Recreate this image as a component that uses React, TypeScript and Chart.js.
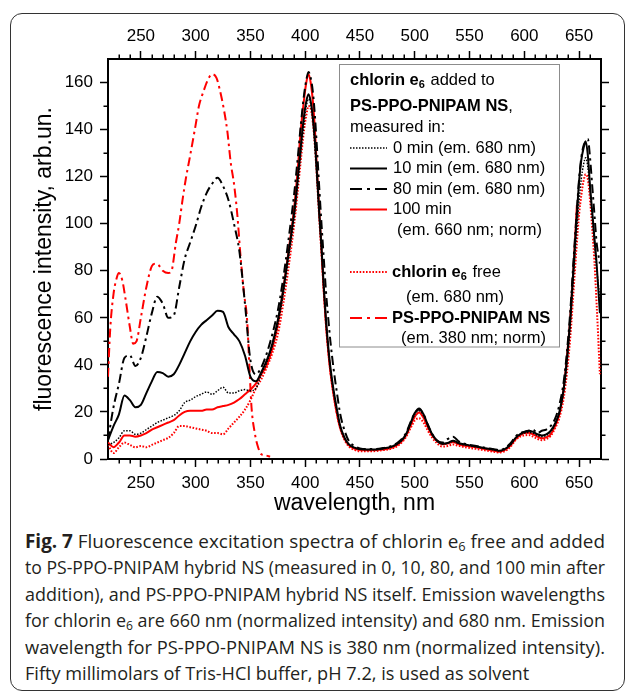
import React, { useEffect, useLayoutEffect, useRef } from 'react';
import { Chart, registerables } from 'chart.js';

Chart.register(...registerables);

const FONT = '"Liberation Sans", Arial, Helvetica, sans-serif';

// ---------------- data ----------------
const WL_LEFT = [220, 225, 230, 235, 240, 245, 250, 255, 260, 265, 270, 275, 280, 285, 290, 295, 300, 305, 310, 315, 320, 325, 330, 335, 340, 345, 350, 355];
const WL_MAIN = [360, 365, 370, 375, 380, 385, 390, 393, 396, 399, 401, 403, 405, 407, 409, 411, 413, 415, 417, 419, 421, 423, 426, 429, 432, 436, 440, 445, 450, 460, 470, 480, 487, 492, 496, 500, 504, 508, 512, 516, 520, 525, 530, 535, 540, 548, 556, 564, 572, 577, 582, 587, 592, 596, 600, 604, 608, 612, 616, 620, 624, 628, 632, 636, 639, 642, 645, 648, 650, 652, 654, 656, 658, 660, 662, 664, 666, 669];

// 0 min (em. 680 nm)
const MIN0_LEFT = [6, 7, 9, 12, 12, 10.5, 11, 12.5, 14, 15.5, 16.5, 17.5, 18.5, 20.5, 24, 25, 26.5, 27.5, 28.5, 27.5, 29, 30.5, 28, 28, 29, 29.5, 29, 30];
const MIN0_MAIN = [36, 41, 48, 57, 70, 86, 103, 116, 130, 143, 150, 153, 151, 144, 133, 118, 103, 88, 72, 58, 47, 38, 28, 20, 13.5, 8.5, 6, 4.7, 4.1, 3.9, 4.3, 5.3, 7.3, 10.3, 14.5, 19, 20.5, 18.5, 14, 10.3, 7.8, 6.4, 6.7, 7.5, 6.6, 5.8, 5.2, 4.5, 3.9, 3.4, 4, 5.8, 8.8, 10.3, 11, 11.3, 11, 10, 9.5, 10, 11.5, 14.5, 19.5, 29, 41, 57, 78, 98, 110, 119, 125, 128, 124, 114, 103, 92, 81, 68];

// 10 min (em. 680 nm)
const MIN10_LEFT = [8, 14, 19, 27, 25, 22, 23, 28, 33, 37, 36.5, 35, 36, 40, 45, 50, 54, 57, 59, 61, 63, 62.5, 56, 53, 50, 44, 35, 33];
const MIN10_MAIN = [37, 42, 49, 59, 72, 88, 105, 118, 133, 146, 152, 155, 152, 145, 134, 119, 103, 89, 73, 59, 48, 39, 29, 21, 14, 9, 6.2, 4.8, 4.2, 4, 4.4, 5.5, 7.5, 10.5, 15, 19.5, 21.5, 19, 14.5, 10.5, 8, 6.5, 6.8, 7.8, 6.8, 6, 5.3, 4.6, 4, 3.5, 4.2, 6, 9, 10.5, 11.5, 12, 11.5, 10.5, 10, 10.5, 12, 15, 20, 30, 43, 60, 82, 104, 118, 127, 132, 135, 129, 116, 105, 94, 83, 62];

// 80 min (em. 680 nm)
const MIN80_LEFT = [8, 22, 32, 43, 44, 39.5, 43, 52, 62, 69, 66, 60, 61, 73, 85, 92, 99, 107, 113, 117, 119.5, 116, 110, 100, 88, 66, 42, 36];
const MIN80_MAIN = [39, 45, 53, 63, 77, 94, 113, 127, 142, 155, 161, 164.5, 162, 156, 145, 130, 114, 99, 85, 71, 60, 50, 38, 28, 19, 12, 7.5, 5.5, 4.5, 4.2, 4.6, 5.8, 8, 11, 15.5, 19.5, 21, 19, 14.5, 10.5, 8, 7, 8.5, 9.5, 7.5, 6.2, 5.5, 4.8, 4.2, 3.8, 4.5, 6.5, 9.5, 11, 11.5, 12, 12.5, 11, 12, 12.5, 14, 17, 23, 33, 46, 63, 85, 106, 119, 128, 133, 135, 136, 128, 116, 104, 92, 83];

// 100 min (em. 660 nm; norm)
const MIN100_LEFT = [7, 5, 7, 10, 10, 9.5, 10, 11, 12.5, 13.5, 14.5, 15.5, 16.5, 18.5, 20, 20.5, 20.5, 20.5, 21, 21, 22, 22.5, 23, 24, 25.5, 27.5, 29.5, 32];
const MIN100_MAIN = [36, 40, 47, 57, 72, 89, 107, 122, 140, 153, 160, 163.5, 160, 152, 139, 121, 104, 88, 71, 57, 46, 37, 27, 19, 13, 8.5, 5.8, 4.4, 3.8, 3.7, 4, 5, 7, 10, 14, 18, 19.8, 17.5, 13.5, 10, 7.8, 6.3, 6.6, 7.2, 6.3, 5.5, 5, 4.2, 3.5, 3.1, 3.8, 5.5, 8.5, 10, 11, 11.2, 10.5, 9.5, 8.8, 9.2, 10.5, 14, 19, 30, 44, 60, 82, 108];

// chlorin e6 free (em. 680 nm)
const FREE_LEFT = [6, 2.5, 5, 7, 6, 5, 5.5, 5, 6, 7, 8, 9, 11, 14, 14, 13.5, 13, 12.5, 12, 11, 11, 10.5, 13, 15.5, 18, 21, 25, 30];
const FREE_MAIN = [34, 39, 45, 53, 66, 82, 100, 113, 127, 140, 146, 150, 149, 143, 132, 117, 101, 86, 71, 57, 46, 37, 27, 19, 13, 8, 5.3, 3.9, 3.3, 3.3, 3.7, 4.6, 6.5, 9.3, 13, 16.3, 17.3, 15.5, 12, 9, 6.8, 5.3, 5.5, 6.2, 5.6, 4.8, 4.3, 3.7, 3.1, 2.8, 3.3, 5, 8, 9.5, 10, 10.2, 9.5, 8.5, 8, 8.5, 9.8, 13, 17.5, 26, 37, 52, 72, 92, 104, 112, 118, 121, 119, 110, 98, 84, 66, 36];

// PS-PPO-PNIPAM NS (em. 380 nm; norm)
const NS_WL = [220, 222, 225, 228, 230, 233, 236, 240, 243, 246, 250, 255, 260, 263, 266, 270, 275, 278, 282, 285, 288, 291, 295, 300, 303, 307, 311, 315, 319, 322, 326, 329, 332, 335, 338, 341, 344, 347, 349, 351, 354, 357, 360, 364, 368];
const NS_VAL = [35, 55, 70, 77, 79, 76, 68, 56, 49, 50, 60, 73, 82, 83, 82.5, 80, 79, 80, 92, 100, 110, 119, 129, 142, 150, 156, 161, 163.5, 162, 157, 148, 139, 126, 117, 104, 86, 71, 59, 40, 22, 11, 5, 2, 1.5, 1];

// axes
const X_MIN = 220;
const X_MAX = 670;
const Y_MIN = 0;
const Y_MAX = 170;
const X_TICKS = [250, 300, 350, 400, 450, 500, 550, 600, 650];
const Y_TICKS = [0, 20, 40, 60, 80, 100, 120, 140, 160];
const MINOR_STEP = 10;

const WL_ALL = [...WL_LEFT, ...WL_MAIN];
const pts = (xs: number[], ys: number[]) => ys.map((y, i) => ({ x: xs[i], y }));

const DASH_DOT = [9, 4, 2.5, 4];

const SERIES = [
  { key: 'min0', data: pts(WL_ALL, [...MIN0_LEFT, ...MIN0_MAIN]), color: '#000000', width: 1.5, dash: [1.5, 1.5], legendDash: [1.5, 1.5] },
  { key: 'min10', data: pts(WL_ALL, [...MIN10_LEFT, ...MIN10_MAIN]), color: '#000000', width: 2, dash: [], legendDash: [] },
  { key: 'min80', data: pts(WL_ALL, [...MIN80_LEFT, ...MIN80_MAIN]), color: '#000000', width: 2, dash: DASH_DOT, legendDash: [12, 5, 3, 5] },
  { key: 'min100', data: pts(WL_ALL, [...MIN100_LEFT, ...MIN100_MAIN]), color: '#ff0000', width: 2, dash: [], legendDash: [] },
  { key: 'free', data: pts(WL_ALL, [...FREE_LEFT, ...FREE_MAIN]), color: '#ff0000', width: 2, dash: [1.6, 1.6], legendDash: [1.6, 1.6] },
  { key: 'ns', data: pts(NS_WL, NS_VAL), color: '#ff0000', width: 2, dash: DASH_DOT, legendDash: [12, 5, 3, 5] },
];

type Seg = { t: string; b?: boolean; sub?: boolean };
const LEGEND_ROWS: { x: number; y: number; segs: Seg[]; sample?: number }[] = [
  { x: 350, y: 80, segs: [{ t: 'chlorin e', b: true }, { t: '6', b: true, sub: true }, { t: ' added to' }] },
  { x: 350, y: 106, segs: [{ t: 'PS-PPO-PNIPAM NS', b: true }, { t: ',' }] },
  { x: 350, y: 127.5, segs: [{ t: 'measured in:' }] },
  { x: 393, y: 148, segs: [{ t: '0 min (em. 680 nm)' }], sample: 0 },
  { x: 393, y: 168.5, segs: [{ t: '10 min (em. 680 nm)' }], sample: 1 },
  { x: 393, y: 189, segs: [{ t: '80 min (em. 680 nm)' }], sample: 2 },
  { x: 393, y: 209.5, segs: [{ t: '100 min' }], sample: 3 },
  { x: 397, y: 230, segs: [{ t: '(em. 660 nm; norm)' }] },
  { x: 392, y: 272, segs: [{ t: 'chlorin e', b: true }, { t: '6', b: true, sub: true }, { t: ' free' }], sample: 4 },
  { x: 406, y: 297.5, segs: [{ t: '(em. 680 nm)' }] },
  { x: 392, y: 318, segs: [{ t: 'PS-PPO-PNIPAM NS', b: true }], sample: 5 },
  { x: 401, y: 338.5, segs: [{ t: '(em. 380 nm; norm)' }] },
];

const legendPlugin = {
  id: 'customLegend',
  afterDraw(chart: any) {
    const ctx: CanvasRenderingContext2D = chart.ctx;
    ctx.save();
    ctx.fillStyle = '#ffffff';
    ctx.fillRect(339.5, 64.5, 220, 282.5);
    ctx.strokeStyle = '#8c8c8c';
    ctx.lineWidth = 1;
    ctx.setLineDash([]);
    ctx.strokeRect(339.5, 64.5, 220, 282.5);
    ctx.fillStyle = '#000';
    ctx.textBaseline = 'middle';
    ctx.textAlign = 'left';
    for (const row of LEGEND_ROWS) {
      if (row.sample !== undefined) {
        const s = SERIES[row.sample];
        ctx.beginPath();
        ctx.strokeStyle = s.color;
        ctx.lineWidth = s.width;
        ctx.setLineDash(s.legendDash);
        ctx.moveTo(350, row.y);
        ctx.lineTo(387, row.y);
        ctx.stroke();
        ctx.setLineDash([]);
      }
      let cx = row.x;
      for (const seg of row.segs) {
        const size = seg.sub ? 11 : 16.5;
        ctx.font = `${seg.b ? 'bold ' : ''}${size}px ${FONT}`;
        ctx.fillStyle = '#000';
        ctx.fillText(seg.t, cx, row.y + (seg.sub ? 5 : 0));
        cx += ctx.measureText(seg.t).width + (seg.sub ? 1 : 0);
      }
    }
    ctx.restore();
  },
};

const minorTicksPlugin = {
  id: 'minorTicks',
  afterDraw(chart: any) {
    const ctx: CanvasRenderingContext2D = chart.ctx;
    const { left, right, top, bottom } = chart.chartArea;
    const xs = chart.scales.x;
    const ys = chart.scales.y;
    ctx.save();
    ctx.strokeStyle = '#000';
    ctx.lineWidth = 1.5;
    ctx.setLineDash([]);
    ctx.beginPath();
    for (let v = X_MIN + MINOR_STEP; v < X_MAX; v += MINOR_STEP) {
      if (X_TICKS.includes(v)) continue;
      const p = Math.round(xs.getPixelForValue(v)) + 0.25;
      ctx.moveTo(p, bottom); ctx.lineTo(p, bottom + 4.5);
      ctx.moveTo(p, top); ctx.lineTo(p, top - 4.5);
    }
    for (let v = Y_MIN + MINOR_STEP; v < Y_MAX; v += MINOR_STEP) {
      if (Y_TICKS.includes(v)) continue;
      const p = Math.round(ys.getPixelForValue(v)) + 0.25;
      ctx.moveTo(left, p); ctx.lineTo(left - 4.5, p);
      ctx.moveTo(right, p); ctx.lineTo(right + 4.5, p);
    }
    ctx.stroke();
    ctx.restore();
  },
};

const gridOpts = (len: number) => ({
  display: true,
  drawOnChartArea: false,
  drawTicks: true,
  tickLength: len,
  tickWidth: 1.5,
  tickColor: '#000',
});
const borderOpts = { display: true, color: '#000', width: 2 };
const tickFont = { family: FONT, size: 17 };

const CANVAS_H = 522;

function ChartCanvas() {
  const ref = useRef<HTMLCanvasElement | null>(null);
  useEffect(() => {
    if (!ref.current) return;
    const chart = new Chart(ref.current, {
      type: 'line',
      data: {
        datasets: SERIES.map((s) => ({
          label: s.key,
          data: s.data,
          borderColor: s.color,
          backgroundColor: s.color,
          borderWidth: s.width,
          borderDash: s.dash,
          pointRadius: 0,
          fill: false,
          cubicInterpolationMode: 'monotone' as const,
          xAxisID: 'x',
          yAxisID: 'y',
        })),
      },
      options: {
        animation: false,
        responsive: false,
        devicePixelRatio: 1,
        layout: { padding: 0 },
        plugins: { legend: { display: false }, tooltip: { enabled: false } },
        scales: {
          x: {
            type: 'linear', position: 'bottom', min: X_MIN, max: X_MAX,
            afterBuildTicks: (s: any) => { s.ticks = X_TICKS.map((v) => ({ value: v })); },
            afterFit: (s: any) => { s.height = CANVAS_H - 459; },
            grid: gridOpts(8), border: borderOpts,
            ticks: { font: tickFont, color: '#000', padding: 6, maxRotation: 0, autoSkip: false },
            title: { display: true, text: 'wavelength, nm', color: '#000', font: { family: FONT, size: 23 }, padding: { top: 0, bottom: 5 } },
          },
          x2: {
            type: 'linear', position: 'top', min: X_MIN, max: X_MAX,
            afterBuildTicks: (s: any) => { s.ticks = X_TICKS.map((v) => ({ value: v })); },
            afterFit: (s: any) => { s.height = 59; },
            grid: gridOpts(8), border: borderOpts,
            ticks: { font: tickFont, color: '#000', padding: 4, maxRotation: 0, autoSkip: false },
          },
          y: {
            type: 'linear', position: 'left', min: Y_MIN, max: Y_MAX,
            afterBuildTicks: (s: any) => { s.ticks = Y_TICKS.map((v) => ({ value: v })); },
            afterFit: (s: any) => { s.width = 108; },
            grid: gridOpts(8), border: borderOpts,
            ticks: { font: tickFont, color: '#000', padding: 7 },
            title: { display: true, text: 'fluorescence intensity, arb.un.', color: '#000', font: { family: FONT, size: 23 }, padding: { top: 31, bottom: 0 } },
          },
          y2: {
            type: 'linear', position: 'right', min: Y_MIN, max: Y_MAX,
            afterBuildTicks: (s: any) => { s.ticks = Y_TICKS.map((v) => ({ value: v })); },
            afterFit: (s: any) => { s.width = 29; },
            grid: gridOpts(8), border: borderOpts,
            ticks: { display: false },
          },
        },
      } as any,
      plugins: [minorTicksPlugin, legendPlugin],
    });
    return () => chart.destroy();
  }, []);
  return <canvas ref={ref} width={630} height={CANVAS_H} style={{ position: 'absolute', left: 0, top: 0, width: 630, height: CANVAS_H }} />;
}

const CAPTION_LEFT = 25;
const CAPTION_WIDTH = 580;
const CAPTION_TOP = 528;
const CAPTION_LINE_HEIGHT = 26.4;

const Sub = ({ c }: { c: string }) => (
  <sub style={{ fontSize: '0.68em', verticalAlign: '-0.25em', lineHeight: 0 }}>{c}</sub>
);

const CAPTION_LINES: React.ReactNode[] = [
  <><b style={{ fontWeight: 700 }}>Fig. 7</b> Fluorescence excitation spectra of chlorin e<Sub c="6" /> free and added</>,
  <>to PS-PPO-PNIPAM hybrid NS (measured in 0, 10, 80, and 100 min after</>,
  <>addition), and PS-PPO-PNIPAM hybrid NS itself. Emission wavelengths</>,
  <>for chlorin e<Sub c="6" /> are 660 nm (normalized intensity) and 680 nm. Emission</>,
  <>wavelength for PS-PPO-PNIPAM NS is 380 nm (normalized intensity).</>,
  <>Fifty millimolars of Tris-HCl buffer, pH 7.2, is used as solvent</>,
];

function Caption() {
  const refs = useRef<(HTMLSpanElement | null)[]>([]);
  useLayoutEffect(() => {
    const els = refs.current.filter(Boolean) as HTMLSpanElement[];
    const n = els.length - 1;
    const scales = els.slice(0, n).map((el) => CAPTION_WIDTH / el.getBoundingClientRect().width);
    const avg = scales.reduce((a, b) => a + b, 0) / scales.length;
    els.forEach((el, i) => {
      const s = i < n ? scales[i] : avg;
      el.style.transform = `scaleX(${s})`;
    });
  }, []);
  return (
    <div style={{ position: 'absolute', left: CAPTION_LEFT, top: CAPTION_TOP, width: CAPTION_WIDTH, fontFamily: '"Open Sans", "Noto Sans", sans-serif', fontSize: 19, color: '#231f20' }}>
      {CAPTION_LINES.map((line, i) => (
        <div key={i} style={{ whiteSpace: 'nowrap', height: CAPTION_LINE_HEIGHT, lineHeight: `${CAPTION_LINE_HEIGHT}px` }}>
          <span ref={(el) => { refs.current[i] = el; }} style={{ display: 'inline-block', transformOrigin: '0 50%' }}>{line}</span>
        </div>
      ))}
    </div>
  );
}

export default function App() {
  return (
    <div style={{ position: 'absolute', left: 0, top: 0, width: 630, height: 693, background: '#fff', overflow: 'hidden' }}>
      <div style={{ position: 'absolute', left: 10, top: 13, width: 613, height: 676, border: '1.5px solid #333', borderRadius: 12 }} />
      <ChartCanvas />
      <Caption />
    </div>
  );
}
